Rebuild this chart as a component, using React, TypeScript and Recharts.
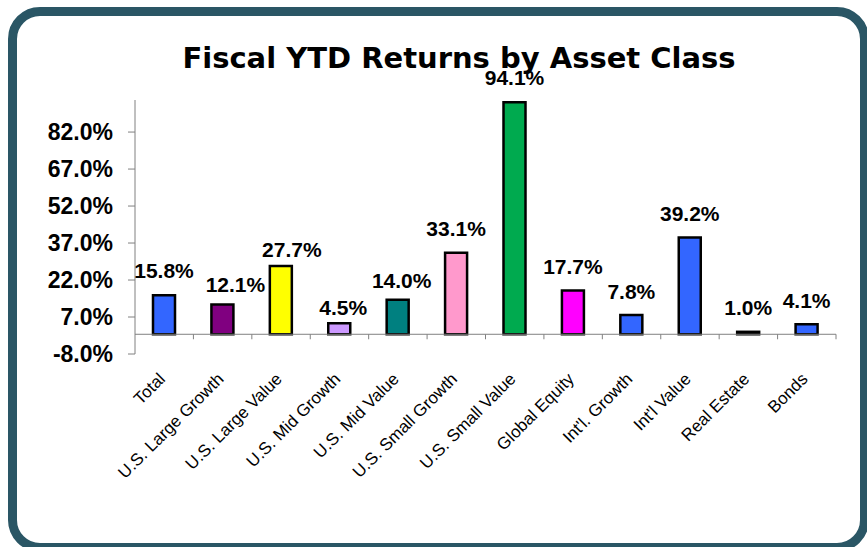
import React from 'react';
import { BarChart, Bar, XAxis, YAxis, Cell, ReferenceLine } from 'recharts';

const categories = [
  'Total',
  'U.S. Large Growth',
  'U.S. Large Value',
  'U.S. Mid Growth',
  'U.S. Mid Value',
  'U.S. Small Growth',
  'U.S. Small Value',
  'Global Equity',
  "Int'l. Growth",
  "Int'l Value",
  'Real Estate',
  'Bonds',
];
const returns = [15.8, 12.1, 27.7, 4.5, 14.0, 33.1, 94.1, 17.7, 7.8, 39.2, 1.0, 4.1];
const barColors = [
  '#3366FF', '#800080', '#FFFF00', '#CC99FF', '#008080', '#FF99CC',
  '#00AA4F', '#FF00FF', '#3366FF', '#3366FF', '#000000', '#3366FF',
];
const yTicks = [-8, 7, 22, 37, 52, 67, 82];
// manual label nudges (dx, dy) as dragged in the original
const labelDx = [0, 13, 11, 4, 4, 0, 0, 0, 0, 0, 0, 0];
const labelDy = [0, 5, 8, 9, 5, 0, 0, 0, 1, 0, 0, 1];

const data = categories.map((name, i) => ({ name, value: returns[i] }));

const FONT = "'Liberation Sans', Arial, sans-serif";

const ZeroAxis = (props: any) => {
  const { x1, x2, y1 } = props;
  const n = categories.length;
  const step = (x2 - x1) / n;
  const ticks = [];
  for (let i = 1; i <= n; i++) {
    const x = x1 + step * i;
    ticks.push(<line key={i} x1={x} x2={x} y1={y1} y2={y1 + 5} stroke="#808080" strokeWidth={1} />);
  }
  return (
    <g>
      <line x1={x1} x2={x2} y1={y1} y2={y1} stroke="#808080" strokeWidth={1} />
      {ticks}
    </g>
  );
};

const XTick = (props: any) => {
  const { x, y, payload } = props;
  const px = x + 2;
  const py = y + 26;
  return (
    <text
      x={px}
      y={py}
      transform={`rotate(-45 ${px} ${py})`}
      textAnchor="end"
      fontSize={17}
      fontFamily={FONT}
      fill="#000"
    >
      {payload.value}
    </text>
  );
};

const BarLabel = (props: any) => {
  const { x, y, width, value, index } = props;
  const i = typeof index === 'number' ? index : returns.indexOf(value);
  const dx = labelDx[i] || 0;
  const dy = labelDy[i] || 0;
  return (
    <text
      x={x + width / 2 + dx}
      y={y - 17 + dy}
      textAnchor="middle"
      fontSize={21}
      fontWeight="bold"
      fontFamily={FONT}
      fill="#000"
    >
      {Number(value).toFixed(1)}%
    </text>
  );
};

export default function App() {
  return (
    <div style={{ position: 'relative', width: 867, height: 547, overflow: 'hidden' }}>
      <style>{'html,body{margin:0;padding:0;overflow:hidden;}'}</style>
      <div
        style={{
          position: 'absolute',
          left: 8,
          top: 7,
          width: 861,
          height: 545,
          border: '9px solid #2A5665',
          borderRadius: 32,
          boxSizing: 'border-box',
          background: '#fff',
        }}
      />
      <div style={{ position: 'absolute', left: 0, top: 0 }}>
        <BarChart
          width={867}
          height={547}
          data={data}
          margin={{ top: 100, right: 31, bottom: 0, left: 0 }}
          barCategoryGap={0}
        >
          <XAxis
            dataKey="name"
            interval={0}
            axisLine={false}
            tickLine={false}
            tickSize={0}
            tickMargin={0}
            height={193}
            tick={<XTick />}
          />
          <YAxis
            type="number"
            domain={[-8, 95]}
            ticks={yTicks}
            allowDataOverflow
            tickFormatter={(v: number) => `${v.toFixed(1)}%`}
            axisLine={{ stroke: '#808080', strokeWidth: 1 }}
            tickLine={{ stroke: '#808080', strokeWidth: 1 }}
            tickSize={7}
            tickMargin={15}
            width={135}
            tick={{ fontSize: 23, fontWeight: 'bold', fill: '#000', fontFamily: FONT }}
          />
          <ReferenceLine y={0} shape={ZeroAxis} />
          <Bar
            dataKey="value"
            isAnimationActive={false}
            barSize={22}
            stroke="#000"
            strokeWidth={2.5}
            label={<BarLabel />}
          >
            {data.map((d, i) => (
              <Cell key={d.name} fill={barColors[i]} />
            ))}
          </Bar>
        </BarChart>
      </div>
      <svg
        width={867}
        height={547}
        style={{ position: 'absolute', left: 0, top: 0, pointerEvents: 'none' }}
      >
        <text
          x={459}
          y={68}
          textAnchor="middle"
          fontSize={29}
          fontWeight="bold"
          fontFamily="'DejaVu Sans', Verdana, sans-serif"
          fill="#000"
        >
          Fiscal YTD Returns by Asset Class
        </text>
      </svg>
    </div>
  );
}
